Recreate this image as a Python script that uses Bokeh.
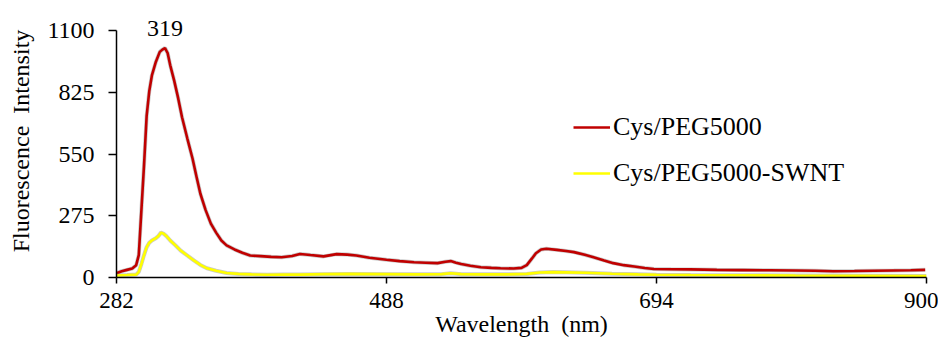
from bokeh.plotting import figure
from bokeh.models import (FixedTicker, Range1d, Legend, LegendItem, Label)
from bokeh.embed import file_html
from bokeh.resources import INLINE

# ---- data ----
wl_red = [282, 286, 290, 294, 297, 299, 301, 303, 305, 307, 309, 312, 315, 317, 319,
          321, 323, 326, 329, 332, 336, 340, 343, 346, 350, 354, 358, 362, 366, 372,
          378, 384, 392, 400, 408, 416, 422, 430, 440, 450, 458, 465, 475, 488, 498,
          509, 518, 527, 533, 537, 541, 545, 552, 560, 568, 575, 585, 591, 595, 599,
          602, 606, 610, 618, 625, 631, 640, 646, 654, 661, 669, 677, 685, 692, 705,
          720, 740, 760, 780, 800, 815, 829, 845, 860, 875, 888, 899]
int_red = [19, 28, 34, 40, 55, 100, 300, 500, 720, 830, 900, 960, 1005, 1015, 1022,
           1000, 945, 877, 800, 714, 620, 530, 450, 373, 300, 240, 200, 165, 143, 125,
           110, 98, 95, 92, 90, 96, 105, 100, 94, 104, 102, 98, 88, 79, 73,
           68, 66, 64, 70, 73, 66, 60, 52, 46, 43, 41, 40, 43, 55, 85,
           108, 125, 128, 123, 118, 113, 100, 90, 76, 64, 55, 49, 42, 38, 37,
           36, 34, 33, 32, 31, 30, 28, 29, 30, 31, 32, 34]

wl_yel = [282, 290, 297, 299, 301, 303, 305, 307, 309, 312, 314, 316, 318, 320, 323,
          327, 331, 336, 341, 346, 351, 358, 366, 375, 385, 397, 410, 422, 440, 460,
          488, 510, 530, 537, 545, 560, 580, 595, 605, 615, 625, 640, 660, 680, 694,
          720, 760, 800, 850, 900]
int_yel = [9, 11, 13, 25, 60, 100, 135, 155, 165, 175, 185, 200, 195, 185, 165,
           143, 120, 98, 76, 56, 41, 30, 20, 16, 14, 12, 13, 13, 15, 16,
           15, 14, 15, 19, 15, 14, 14, 16, 22, 24, 23, 21, 17, 14, 12,
           11, 10, 9, 8, 7]

series_names = ["Cys/PEG5000", "Cys/PEG5000-SWNT"]
x_ticks = [282, 488, 694, 900]
y_ticks = [0, 275, 550, 825, 1100]
peak_wl = 319
peak_label_y = 1110

FONT = "Liberation Serif"
NB = "\u00a0"

# y range extends above 1100 so the peak label has room; the axis stops at 1100
p = figure(width=938, height=342, output_backend="svg", toolbar_location=None,
           x_range=Range1d(282, 900), y_range=Range1d(0, 1216),
           min_border_left=116, min_border_right=12, min_border_top=4,
           min_border_bottom=65)
p.outline_line_color = None
p.grid.visible = False
p.background_fill_color = "white"
p.border_fill_color = "white"

# lines with a soft grey edge like the reference
p.line(wl_red, int_red, line_color="#8a8a8a", line_width=4, line_alpha=0.45)
r_red = p.line(wl_red, int_red, line_color="#C00000", line_width=2.6)
p.line(wl_yel, int_yel, line_color="#8a8a8a", line_width=4, line_alpha=0.45)
r_yel = p.line(wl_yel, int_yel, line_color="#FFFF00", line_width=2.6)

# axes
p.xaxis.ticker = FixedTicker(ticks=x_ticks)
p.yaxis.ticker = FixedTicker(ticks=y_ticks)
p.yaxis.bounds = (0, 1100)
p.xaxis.minor_tick_line_color = None
p.yaxis.minor_tick_line_color = None
for ax in (p.xaxis[0], p.yaxis[0]):
    ax.axis_line_color = "black"
    ax.axis_line_width = 1.5
    ax.major_tick_line_color = "black"
    ax.major_tick_line_width = 1.5
    ax.major_tick_in = 0
    ax.major_label_text_font = FONT
    ax.major_label_text_color = "black"
    ax.axis_label_text_font = FONT
    ax.axis_label_text_font_style = "normal"
    ax.axis_label_text_color = "black"

p.xaxis.major_label_text_font_size = "23px"
p.yaxis.major_label_text_font_size = "24px"
p.xaxis.axis_label_text_font_size = "24px"
p.yaxis.axis_label_text_font_size = "24px"
p.xaxis.major_tick_out = 6
p.yaxis.major_tick_out = 8
p.xaxis.major_label_standoff = 9
p.yaxis.major_label_standoff = 14
p.xaxis.axis_label = "Wavelength" + NB + NB + "(nm)"
p.yaxis.axis_label = "Fluorescence" + NB + NB + "Intensity"
p.xaxis.axis_label_standoff = 0
p.yaxis.axis_label_standoff = 10

# peak annotation
p.add_layout(Label(x=peak_wl, y=peak_label_y, text=str(peak_wl), text_align="center",
                   text_baseline="middle", text_font=FONT, text_font_size="24px",
                   text_color="black"))

legend = Legend(items=[LegendItem(label=series_names[0], renderers=[r_red]),
                       LegendItem(label=series_names[1], renderers=[r_yel])],
                location=(457, 89), orientation="vertical",
                glyph_width=37, glyph_height=26, label_height=26,
                label_standoff=3, spacing=16, padding=0, margin=0,
                border_line_color=None, background_fill_alpha=0,
                label_text_font=FONT, label_text_font_size="26px",
                label_text_color="black")
p.add_layout(legend)

open("out.html", "w").write(file_html(p, INLINE))
